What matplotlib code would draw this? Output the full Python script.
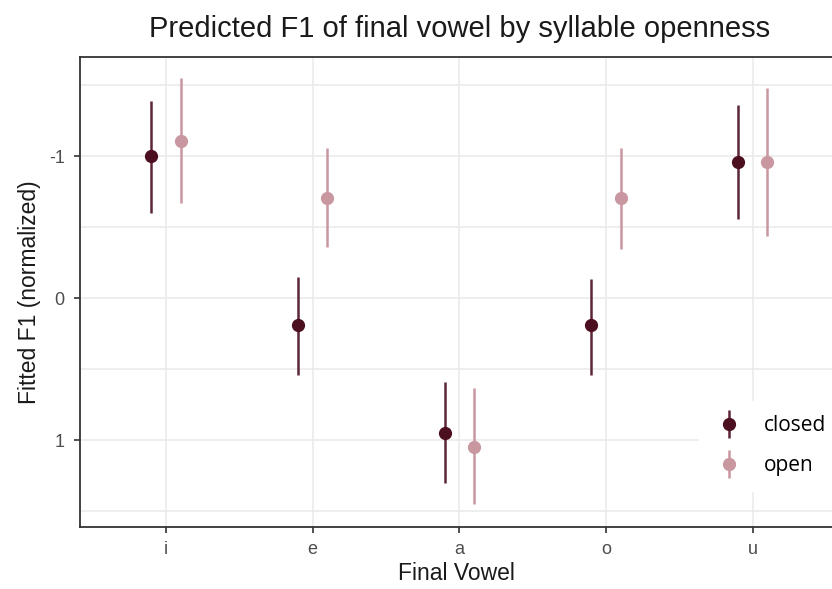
import numpy as np
import matplotlib
matplotlib.use("Agg")
import matplotlib.pyplot as plt
from matplotlib.lines import Line2D

plt.rcParams['font.family'] = ['Liberation Sans', 'DejaVu Sans']

vowels = ['i', 'e', 'a', 'o', 'u']
closed_fit = [-1.0, 0.19, 0.95, 0.19, -0.96]
closed_lo = [-1.39, -0.15, 0.59, -0.14, -1.36]
closed_hi = [-0.60, 0.54, 1.30, 0.54, -0.56]
open_fit = [-1.11, -0.71, 1.05, -0.71, -0.96]
open_lo = [-1.55, -1.06, 0.63, -1.06, -1.48]
open_hi = [-0.67, -0.36, 1.45, -0.35, -0.44]

c_closed = '#4b0f1f'
c_closed_bar = '#5c2636'
c_open = '#c9979f'
grid_c = '#ebebeb'

fig = plt.figure(figsize=(8.32, 5.89), dpi=100)
ax = fig.add_axes([0.0962, 0.1053, 0.9038, 0.7979])

x = np.arange(len(vowels))
dodge = 0.1
ax.vlines(x - dodge, closed_lo, closed_hi, color=c_closed_bar, lw=1.8, zorder=3)
ax.plot(x - dodge, closed_fit, 'o', color=c_closed, ms=8.5, zorder=4)
ax.vlines(x + dodge, open_lo, open_hi, color=c_open, lw=1.8, zorder=3)
ax.plot(x + dodge, open_fit, 'o', color=c_open, ms=8.5, zorder=4)

ax.set_xlim(-0.585, 4.54)
ax.set_ylim(1.61, -1.70)
ax.set_xticks(x)
ax.set_xticklabels(vowels)
ax.set_yticks([-1, 0, 1])
ax.set_yticklabels(['-1', '0', '1'])
ax.set_yticks([-1.5, -0.5, 0.5, 1.5], minor=True)
ax.grid(True, which='both', color=grid_c, lw=1.2, zorder=0)
ax.tick_params(which='minor', left=False)
ax.tick_params(which='major', length=4, width=1.2, color='#333333',
               labelsize=13, labelcolor='#4d4d4d')
ax.tick_params(axis='y', pad=7)
ax.tick_params(axis='x', pad=6)
ax.set_axisbelow(True)

for s in ['left', 'bottom', 'top']:
    ax.spines[s].set_color('#333333')
    ax.spines[s].set_linewidth(1.3)
ax.spines['right'].set_visible(False)

ax.set_xlabel('Final Vowel', fontsize=16.5, color='#1a1a1a', labelpad=3)
ax.set_ylabel('Fitted F1 (normalized)', fontsize=16.5, color='#1a1a1a', labelpad=6)
fig.text(0.552, 0.951, 'Predicted F1 of final vowel by syllable openness',
         ha='center', va='center', fontsize=21, color='#1a1a1a')

bar_c = Line2D([0], [0], marker='|', color=c_closed_bar, ms=20, mew=1.8, lw=0)
dot_c = Line2D([0], [0], marker='o', color=c_closed, ms=8.5, lw=0)
bar_o = Line2D([0], [0], marker='|', color=c_open, ms=20, mew=1.8, lw=0)
dot_o = Line2D([0], [0], marker='o', color=c_open, ms=8.5, lw=0)
leg = ax.legend([(bar_c, dot_c), (bar_o, dot_o)], ['closed', 'open'],
                loc='lower right', bbox_to_anchor=(1.025, 0.055), frameon=True,
                fancybox=False, framealpha=1, edgecolor='white',
                handletextpad=0.9, handlelength=1.5, labelspacing=0.9,
                borderpad=0.7,
                prop={'family': 'Open Sans', 'size': 15})

fig.savefig('out.png', dpi=100)
